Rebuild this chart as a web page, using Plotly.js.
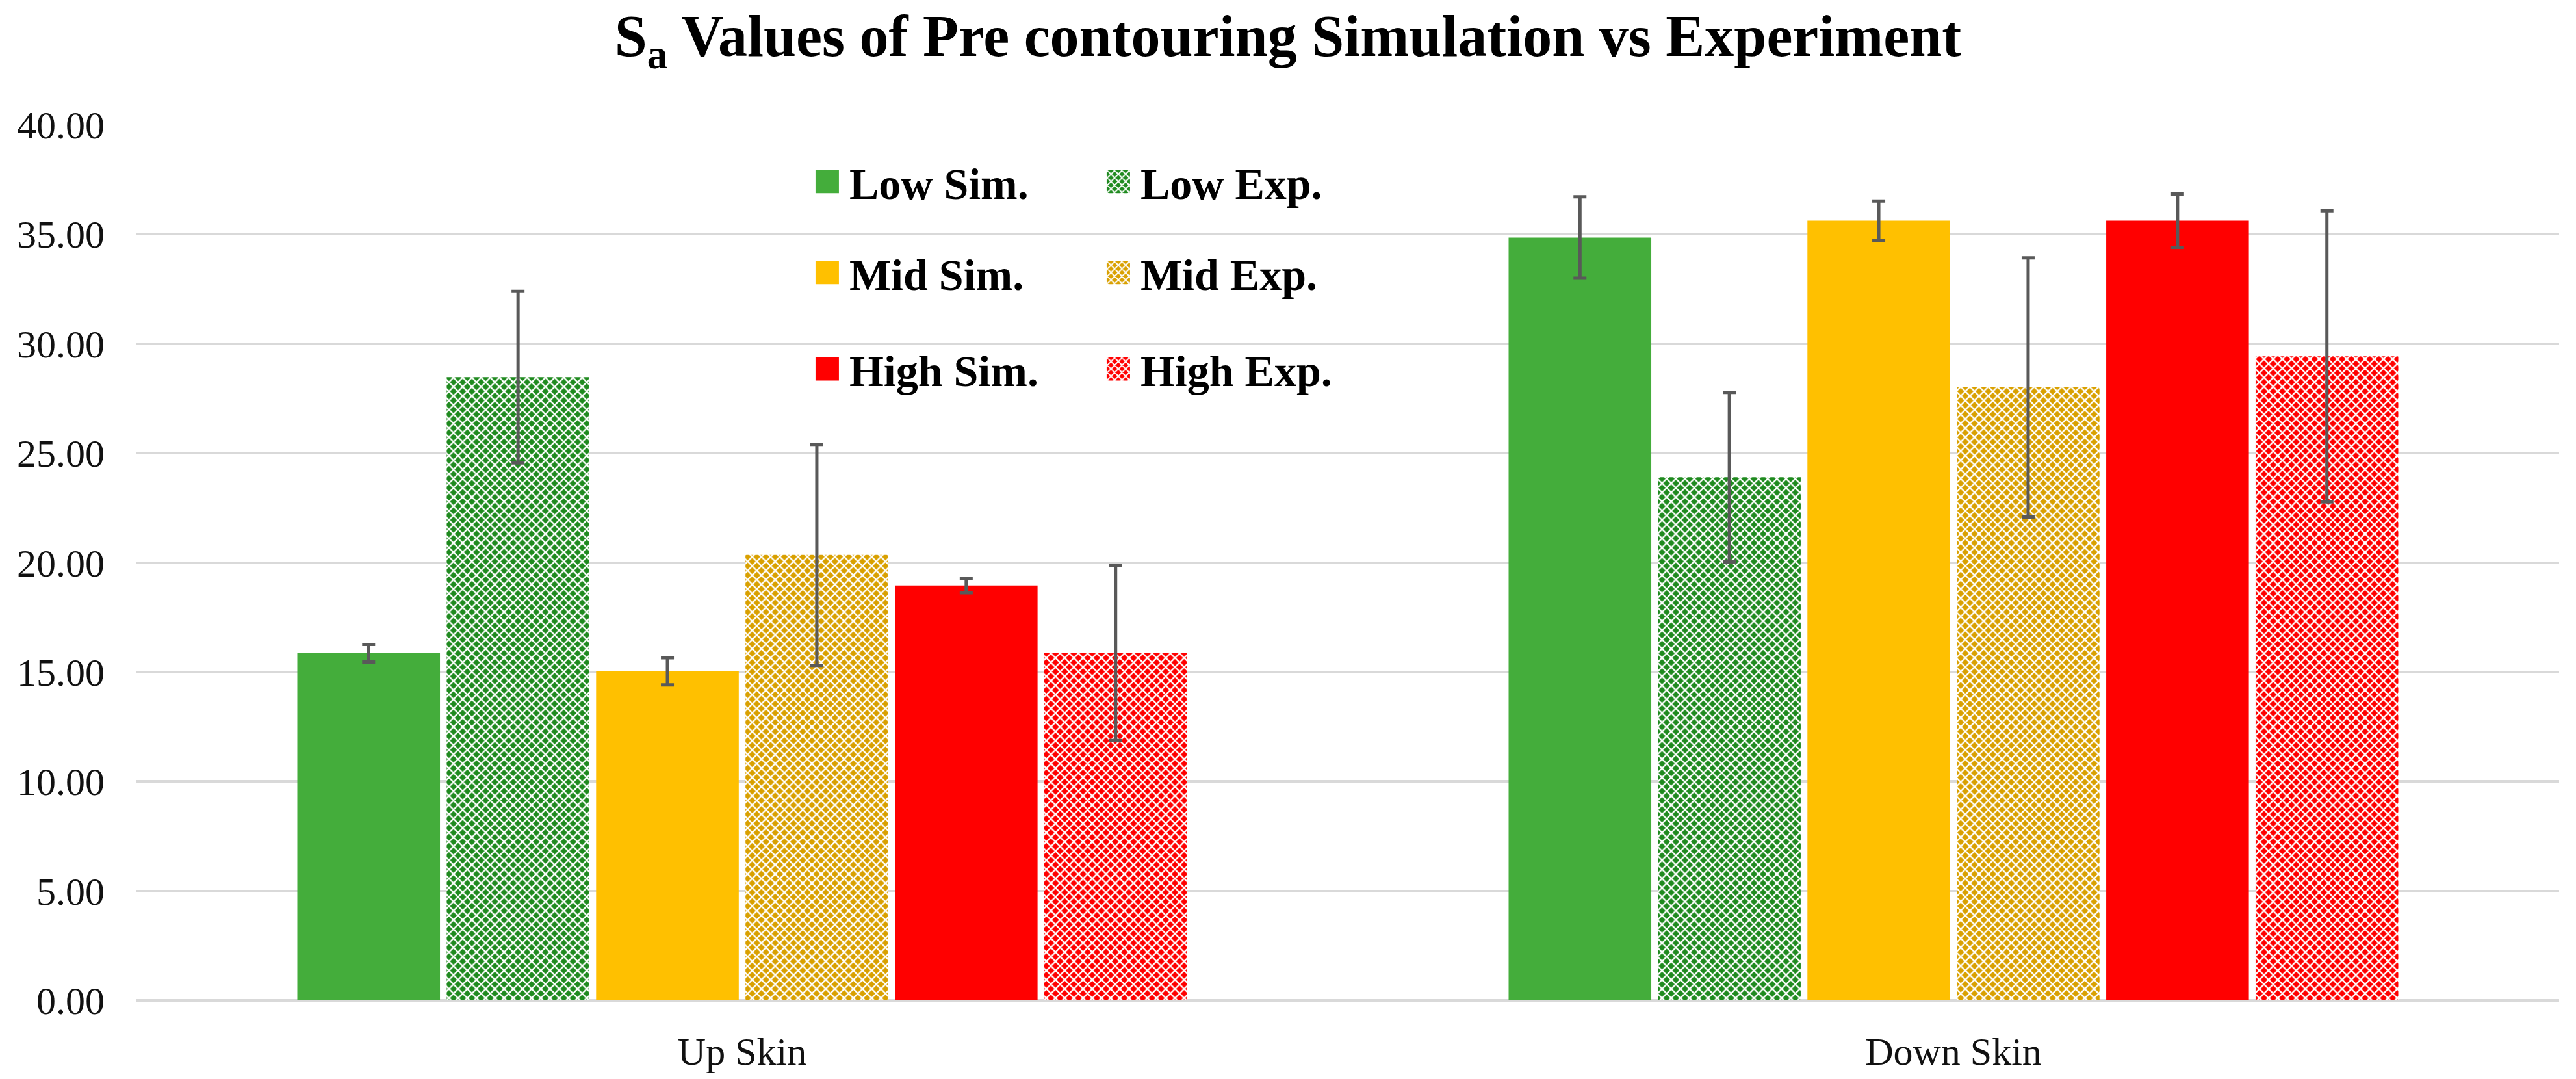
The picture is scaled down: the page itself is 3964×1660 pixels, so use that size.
<!DOCTYPE html>
<html>
<head>
<meta charset="utf-8">
<script src="https://cdn.plot.ly/plotly-3.0.1.min.js"></script>
<style>
  html, body { margin: 0; padding: 0; background: #ffffff; }
  #sa-chart { width: 3964px; height: 1660px; }
</style>
</head>
<body>
<div id="sa-chart"></div>
<script>
// Sa values, pre contouring: simulation vs experiment
const categories = ['Up Skin', 'Down Skin'];

const lowSim = [15.86, 34.85];
const lowSimErr = [0.40, 1.86];
const lowExp = [28.47, 23.90];
const lowExpErr = [3.92, 3.87];

const midSim = [15.03, 35.62];
const midSimErr = [0.62, 0.90];
const midExp = [20.35, 28.00];
const midExpErr = [5.05, 5.92];

const highSim = [18.95, 35.62];
const highSimErr = [0.33, 1.22];
const highExp = [15.87, 29.42];
const highExpErr = [4.00, 6.65];

const yTicks = [0, 5, 10, 15, 20, 25, 30, 35, 40];

const FONT = 'Liberation Serif, Times New Roman, serif';

function simTrace(name, y, err, color, legend) {
    return {
        x: categories, y: y, name: name, type: 'bar', legend: legend,
        marker: { color: color, line: { width: 0 } },
        error_y: { type: 'data', array: err, visible: true, color: '#595959', thickness: 5, width: 10 }
    };
}

function expTrace(name, y, err, color, legend) {
    return {
        x: categories, y: y, name: name, type: 'bar', legend: legend,
        marker: {
            color: color, line: { width: 0 },
            pattern: { shape: 'x', fillmode: 'replace', bgcolor: color, fgcolor: '#ffffff', size: 10, solidity: 0.42 }
        },
        error_y: { type: 'data', array: err, visible: true, color: '#595959', thickness: 5, width: 10 }
    };
}

const traces = [
    simTrace('Low Sim.', lowSim, lowSimErr, '#44AD3B', 'legend'),
    expTrace('Low Exp.', lowExp, lowExpErr, '#1F8A1F', 'legend'),
    simTrace('Mid Sim.', midSim, midSimErr, '#FFC000', 'legend2'),
    expTrace('Mid Exp.', midExp, midExpErr, '#D9A000', 'legend2'),
    simTrace('High Sim.', highSim, highSimErr, '#FF0000', 'legend3'),
    expTrace('High Exp.', highExp, highExpErr, '#FF0000', 'legend3')
];

function legendRow(y) {
    return {
        orientation: 'h', x: 0.276, xanchor: 'left', y: y, yanchor: 'middle',
        bgcolor: 'rgba(0,0,0,0)', borderwidth: 0,
        itemwidth: 58, entrywidth: 375, traceorder: 'normal',
        font: { family: FONT, size: 68, color: '#000000', weight: 'bold' }
    };
}

const layout = {
    width: 3964, height: 1660,
    paper_bgcolor: '#ffffff', plot_bgcolor: '#ffffff',
    margin: { l: 210, r: 26, t: 192, b: 121 },
    title: {
        text: 'S<sub>a</sub> Values of Pre contouring Simulation vs Experiment',
        xref: 'container', x: 0.5, xanchor: 'center',
        yref: 'container', y: 0.967, yanchor: 'middle',
        font: { family: FONT, size: 90, color: '#000000', weight: 'bold' }
    },
    barmode: 'group', bargap: 0.26, bargroupgap: 0.045,
    showlegend: true,
    legend: legendRow(0.935),
    legend2: legendRow(0.831),
    legend3: legendRow(0.721),
    xaxis: {
        type: 'category', showgrid: false, showline: false, ticks: '',
        ticklabelstandoff: 38,
        tickfont: { family: FONT, size: 60, color: '#111111' }
    },
    yaxis: {
        range: [0, 40], tickvals: yTicks, tickformat: '.2f',
        showgrid: true, gridcolor: '#D9D9D9', gridwidth: 4,
        zeroline: true, zerolinecolor: '#D9D9D9', zerolinewidth: 4,
        showline: false, ticks: '', ticklabelstandoff: 48,
        tickfont: { family: FONT, size: 60, color: '#111111' }
    },
    // white box behind the legend, hides the gridlines there
    shapes: [{
        type: 'rect', xref: 'paper', yref: 'paper', layer: 'between',
        x0: 0.2656, x1: 0.505, y0: 0.682, y1: 0.964,
        fillcolor: '#ffffff', line: { width: 0 }
    }]
};

// bigger legend swatches, like the original
function growSwatches() {
    document.querySelectorAll('#sa-chart .legendpoints path').forEach(function(p) {
        p.setAttribute('d', 'M18,18H-18V-18H18Z');
    });
}

Plotly.newPlot('sa-chart', traces, layout, { displayModeBar: false }).then(function(gd) {
    growSwatches();
    gd.on('plotly_afterplot', growSwatches);
    setTimeout(growSwatches, 200);
});
</script>
</body>
</html>
